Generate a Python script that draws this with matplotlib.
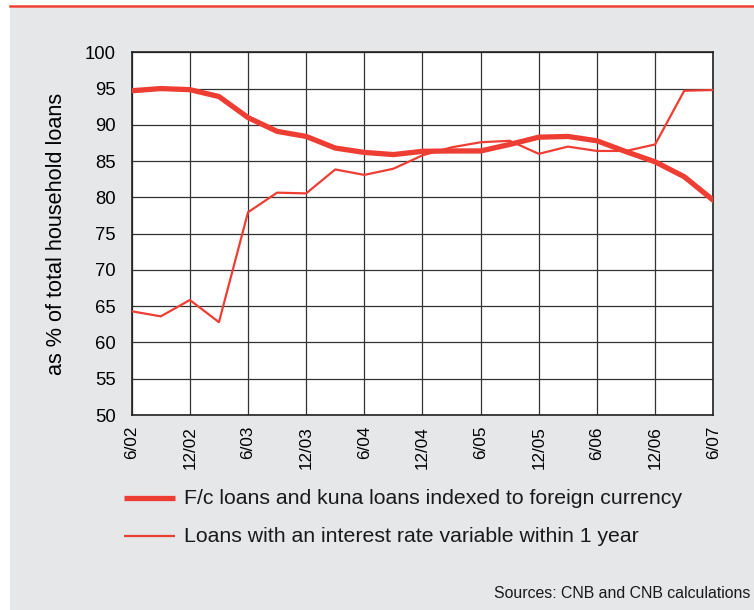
import matplotlib
matplotlib.use("Agg")
import matplotlib.pyplot as plt
from matplotlib.patches import Rectangle
from matplotlib.lines import Line2D

quarters = ["6/02", "9/02", "12/02", "3/03", "6/03", "9/03", "12/03", "3/04", "6/04", "9/04",
            "12/04", "3/05", "6/05", "9/05", "12/05", "3/06", "6/06", "9/06", "12/06", "3/07", "6/07"]
fc_indexed = [94.7, 95.0, 94.85, 93.9, 91.0, 89.1, 88.4, 86.8, 86.2, 85.9,
              86.35, 86.4, 86.4, 87.3, 88.3, 88.4, 87.8, 86.3, 84.9, 82.85, 79.6]
variable_rate = [64.3, 63.6, 65.85, 62.8, 77.95, 80.65, 80.55, 83.85, 83.1, 83.95,
                 85.8, 86.9, 87.6, 87.8, 86.0, 87.0, 86.4, 86.4, 87.3, 94.7, 94.8]
tick_labels = ["6/02", "12/02", "6/03", "12/03", "6/04", "12/04", "6/05", "12/05", "6/06", "12/06", "6/07"]
series_names = ["F/c loans and kuna loans indexed to foreign currency",
                "Loans with an interest rate variable within 1 year"]

RED = "#EE3E33"
BG = "#E6E7E9"
W, H = 754, 610

plt.rcParams['font.family'] = ['Liberation Sans', 'DejaVu Sans']

fig = plt.figure(figsize=(W / 100, H / 100), dpi=100)
fig.patch.set_facecolor("white")

# gray panel and top red rule
fig.patches.append(Rectangle((10 / W, 0.0), 1 - 10 / W, 1 - 8 / H,
                             transform=fig.transFigure, facecolor=BG, edgecolor="none", zorder=-5))
fig.lines.append(Line2D([10 / W, 1.0], [1 - 6 / H, 1 - 6 / H], transform=fig.transFigure,
                        color=RED, lw=1.8, zorder=-4))

ax = fig.add_axes([131.7 / W, 1 - 415 / H, (713.3 - 131.7) / W, (415 - 52.3) / H])
ax.set_zorder(2)
ax.set_facecolor("white")
x = list(range(len(quarters)))
ax.plot(x, fc_indexed, color=RED, lw=3.8, solid_joinstyle="round", zorder=4)
ax.plot(x, variable_rate, color=RED, lw=1.6, zorder=3)

ax.set_xlim(0, len(quarters) - 1)
ax.set_ylim(50, 100)
ax.set_yticks(range(50, 101, 5))
tick_pos = [quarters.index(t) for t in tick_labels]
ax.set_xticks(tick_pos)
ax.set_xticklabels(tick_labels, rotation=90, fontsize=12.3)
ax.tick_params(axis='y', labelsize=13.3, length=0, pad=11.5)
ax.tick_params(axis='x', length=0, pad=8)
ax.grid(True, color="#333333", lw=0.9)
ax.set_axisbelow(True)
for s in ax.spines.values():
    s.set_color("#222222")
    s.set_linewidth(1.2)
ax.set_ylabel("as % of total household loans", fontsize=15.6)
ax.yaxis.set_label_coords(-(131.7 - 67) / (713.3 - 131.7), 0.5)

# legend drawn manually in figure coordinates
for i, (name, lw) in enumerate(zip(series_names, [3.8, 1.6])):
    yy = 1 - (498 + 38 * i) / H
    fig.lines.append(Line2D([124 / W, 175 / W], [yy, yy], transform=fig.transFigure,
                            color=RED, lw=lw, solid_capstyle="butt"))
    fig.text(184 / W, yy, name, fontsize=15.3, va="center", ha="left", color="#1a1a1a")

fig.text(750 / W, 1 - 593 / H, "Sources: CNB and CNB calculations", fontsize=11.4,
         ha="right", va="center", color="#1a1a1a")

fig.savefig("out.png", dpi=100, facecolor=fig.get_facecolor())
